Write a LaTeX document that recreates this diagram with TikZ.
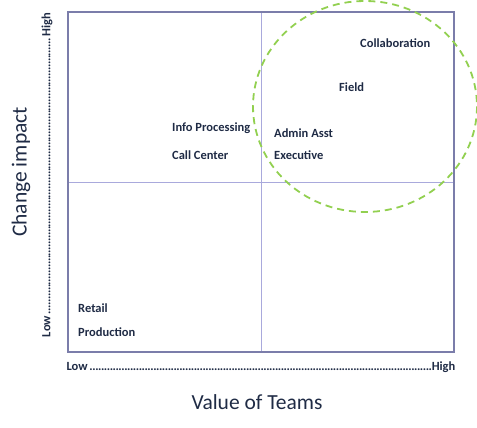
\documentclass[tikz,border=0pt]{standalone}
\usepackage{fontspec}
\setmainfont{Carlito}
\definecolor{inkblue}{HTML}{1F2B45}
\definecolor{framecol}{HTML}{7B7DAA}
\definecolor{gridcol}{HTML}{A9A9DC}
\definecolor{zonegreen}{HTML}{92D050}
% closely spaced dot leaders for the axis scales
\newcommand{\tightdots}{\leaders\hbox to 2.9pt{\hss.\hss}\hfill}
\begin{document}
\begin{tikzpicture}[x=1pt,y=-1pt,
  team/.style={font=\bfseries\fontsize{12.5}{15}\selectfont, text=inkblue, inner sep=0pt, anchor=west},
  axistitle/.style={font=\fontsize{21.5}{25}\selectfont, text=inkblue, inner sep=0pt},
  scalelabel/.style={font=\bfseries\fontsize{12.5}{15}\selectfont, text=inkblue, inner sep=0pt}]
\useasboundingbox (0,0) rectangle (477,428);
% quadrant frame and dividers
\draw[gridcol, line width=0.9pt] (261,12) -- (261,352);
\draw[gridcol, line width=0.9pt] (68,182) -- (454,182);
\draw[framecol, line width=1.5pt] (68,12) rectangle (454,352);
% high-value zone
\draw[zonegreen, line width=1.8pt, dash pattern=on 7pt off 5pt] (365,106.5) ellipse [x radius=112, y radius=105.5];
% team labels
\node[team] (collab) at (360,43) {Collaboration};
\node[team] (field) at (339,87) {Field};
\node[team] (info) at (172,128) {Info Processing};
\node[team] (call) at (172,155) {Call Center};
\node[team] (admin) at (274,133) {Admin Asst};
\node[team] (exec) at (274,155) {Executive};
\node[team] (retail) at (78,308) {Retail};
\node[team] (prod) at (78,332) {Production};
% axis scales
\node[scalelabel] (xscale) at (261,367) {\makebox[389pt]{Low\tightdots High}};
\node[scalelabel, rotate=90] (yscale) at (47,175) {\makebox[324pt]{Low\tightdots High}};
% axis titles
\node[axistitle] (xtitle) at (257,402) {Value of Teams};
\node[axistitle, rotate=90] (ytitle) at (21,172) {Change impact};
\end{tikzpicture}
\end{document}
